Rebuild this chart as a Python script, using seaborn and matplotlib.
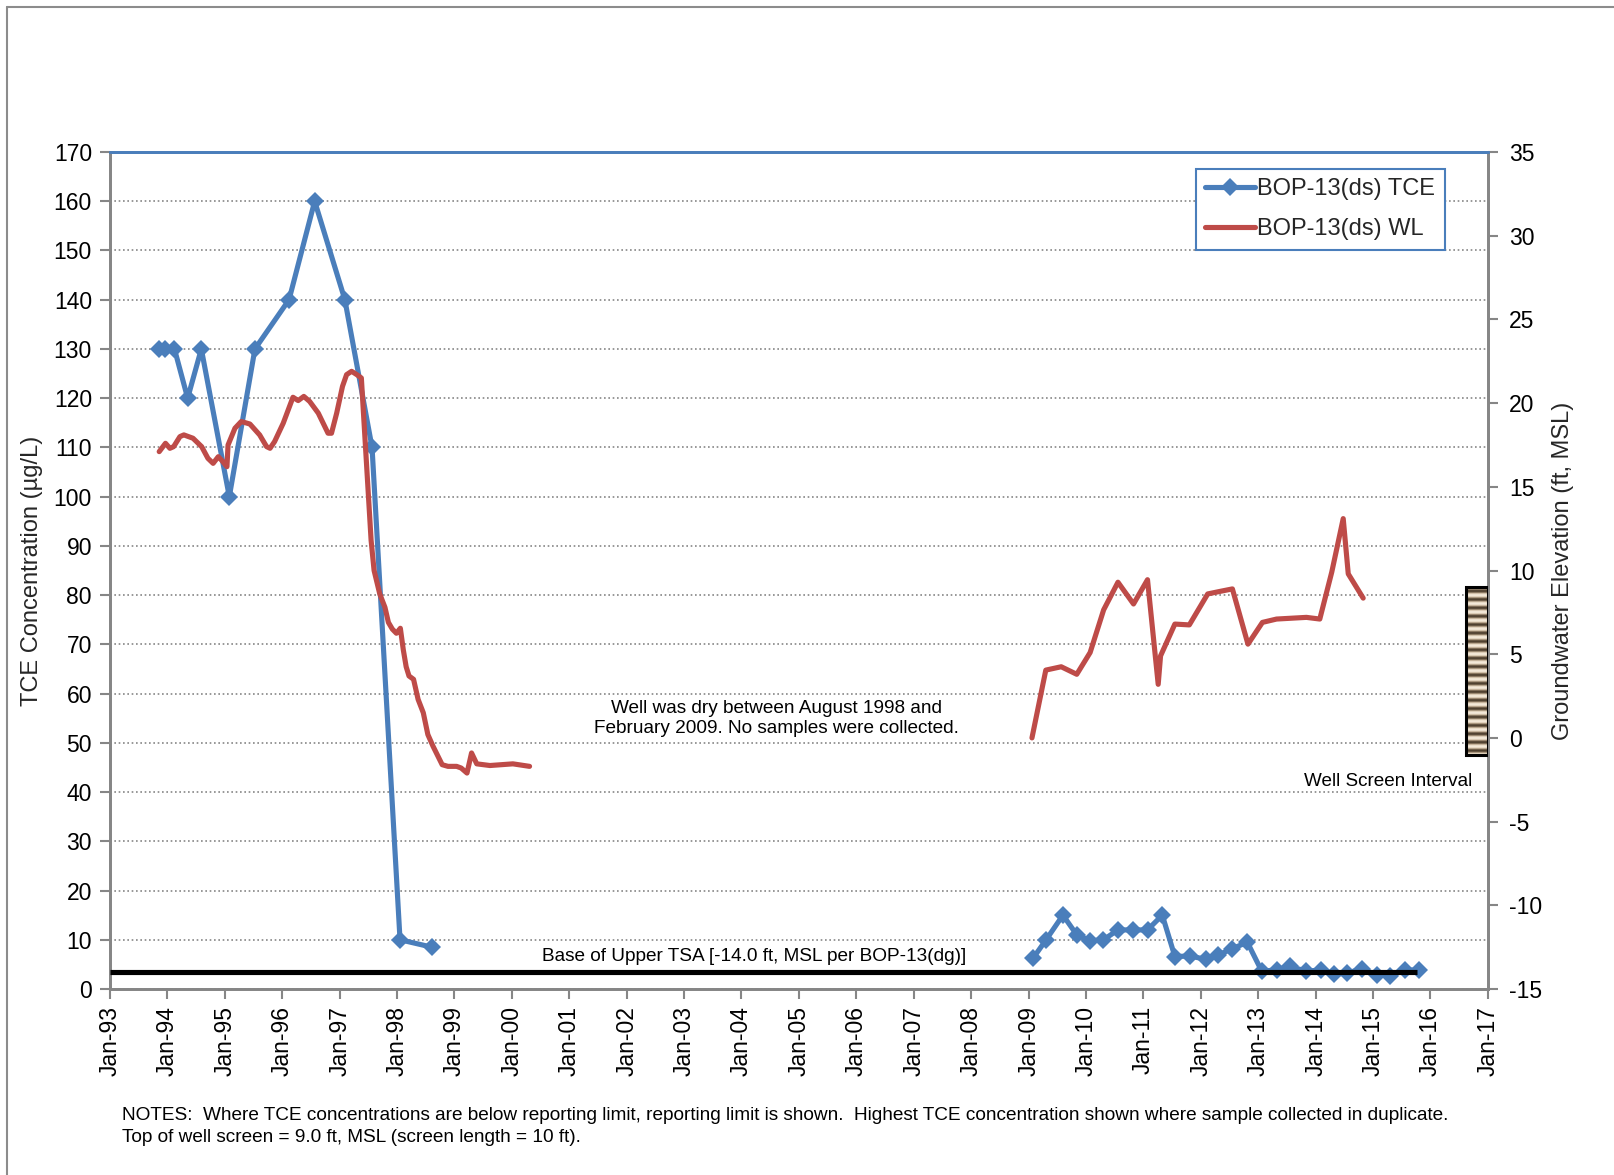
import numpy as np
import pandas as pd
import matplotlib
matplotlib.use("Agg")
import matplotlib.pyplot as plt
import matplotlib.dates as mdates
from matplotlib.colors import LinearSegmentedColormap
from matplotlib.lines import Line2D
from matplotlib.patches import Rectangle
import seaborn as sns

# ---------------- data ----------------
# TCE concentration (ug/L), BOP-13(ds)
tce_dates_early = ["1993-11-10", "1993-12-20", "1994-02-15", "1994-05-10", "1994-08-05",
                   "1995-01-30", "1995-07-12", "1996-02-14", "1996-07-26", "1997-02-03",
                   "1997-07-26", "1998-01-20", "1998-08-10"]
tce_values_early = [130, 130, 130, 120, 130, 100, 130, 140, 160, 140, 110, 10, 8.5]

tce_dates_late = ["2009-01-30", "2009-04-22", "2009-08-07", "2009-11-03", "2010-01-27",
                  "2010-04-22", "2010-07-23", "2010-10-27", "2011-01-27", "2011-05-01",
                  "2011-07-20", "2011-10-23", "2012-02-06", "2012-04-20", "2012-07-20",
                  "2012-10-23", "2013-01-23", "2013-04-27", "2013-07-20", "2013-11-03",
                  "2014-02-06", "2014-04-27", "2014-07-17", "2014-10-20", "2015-01-23",
                  "2015-04-20", "2015-07-26", "2015-10-23"]
tce_values_late = [6.3, 10, 15, 11, 9.8, 10, 12, 12, 12, 15,
                   6.6, 6.7, 6.0, 6.9, 8.2, 9.5, 3.6, 3.9, 4.6, 3.6,
                   3.9, 3.0, 3.2, 4.1, 2.9, 2.7, 3.9, 3.8]

# Groundwater elevation (ft, MSL), BOP-13(ds)
wl_dates_early = ["1993-11-10", "1993-12-20", "1994-01-17", "1994-02-10", "1994-03-22",
                  "1994-04-16", "1994-06-13", "1994-08-07", "1994-09-16", "1994-10-19",
                  "1994-11-21", "1994-12-20", "1995-01-15", "1995-01-22", "1995-03-07",
                  "1995-04-16", "1995-06-10", "1995-08-11", "1995-09-24", "1995-10-16",
                  "1995-11-14", "1996-01-08", "1996-03-10", "1996-04-12", "1996-05-18",
                  "1996-06-24", "1996-08-18", "1996-10-19", "1996-11-10", "1996-12-13",
                  "1997-01-19", "1997-02-14", "1997-03-18", "1997-04-20", "1997-05-19",
                  "1997-07-20", "1997-08-08", "1997-09-13", "1997-10-16", "1997-11-07",
                  "1997-12-02", "1997-12-28", "1998-01-22", "1998-02-10", "1998-02-28",
                  "1998-03-18", "1998-04-16", "1998-05-15", "1998-06-17", "1998-07-16",
                  "1998-08-18", "1998-10-15", "1998-11-21", "1999-01-15", "1999-02-13",
                  "1999-03-22", "1999-04-20", "1999-05-23", "1999-08-15", "2000-01-08",
                  "2000-04-23"]
wl_values_early = [17.1, 17.6, 17.3, 17.4, 18.0,
                   18.1, 17.9, 17.4, 16.7, 16.4,
                   16.8, 16.5, 16.2, 17.5, 18.5,
                   18.9, 18.75, 18.1, 17.4, 17.3,
                   17.7, 18.8, 20.35, 20.15, 20.4,
                   20.1, 19.4, 18.2, 18.2, 19.4,
                   21.0, 21.7, 21.9, 21.7, 21.5,
                   11.8, 10.0, 8.6, 7.8, 6.9,
                   6.5, 6.25, 6.55, 5.25, 4.25,
                   3.7, 3.5, 2.3, 1.5, 0.2,
                   -0.5, -1.6, -1.7, -1.7, -1.8,
                   -2.1, -0.9, -1.55, -1.65, -1.55,
                   -1.7]

wl_dates_late = ["2009-01-22", "2009-04-20", "2009-07-27", "2009-11-03", "2010-01-27",
                 "2010-04-23", "2010-07-23", "2010-10-30", "2011-01-27", "2011-04-05",
                 "2011-04-20", "2011-07-20", "2011-10-20", "2012-02-14", "2012-05-01",
                 "2012-07-20", "2012-10-27", "2013-01-27", "2013-04-27", "2013-11-03",
                 "2014-01-27", "2014-04-13", "2014-06-25", "2014-07-27", "2014-10-30"]
wl_values_late = [0.0, 4.05, 4.25, 3.8, 5.1,
                  7.65, 9.3, 8.0, 9.45, 3.2,
                  4.9, 6.8, 6.75, 8.6, 8.75,
                  8.9, 5.6, 6.9, 7.1, 7.2,
                  7.1, 9.9, 13.1, 9.8, 8.35]

# Base of Upper TSA and well screen (ft, MSL)
tsa_base_elev = -14.0
tsa_line_dates = ["1993-01-01", "2015-10-05"]
screen_top = 9.0
screen_length = 10.0
screen_dates = ["2016-08-15", "2017-01-01"]

tce_label = "BOP-13(ds) TCE"
wl_label = "BOP-13(ds) WL"

# ---------------- tables ----------------
tce_df = pd.DataFrame({
    "date": pd.to_datetime(tce_dates_early + tce_dates_late),
    "tce": tce_values_early + tce_values_late,
    "segment": [0] * len(tce_dates_early) + [1] * len(tce_dates_late),
})
wl_df = pd.DataFrame({
    "date": pd.to_datetime(wl_dates_early + wl_dates_late),
    "wl": wl_values_early + wl_values_late,
    "segment": [0] * len(wl_dates_early) + [1] * len(wl_dates_late),
})

# ---------------- style ----------------
sns.set_theme(style="white")
plt.rcParams["font.family"] = ["Liberation Sans", "DejaVu Sans"]
plt.rcParams["axes.unicode_minus"] = False

blue = "#4A7EBB"
red = "#BE4B48"
axis_gray = "#868686"

W, H = 1614, 1175
fig = plt.figure(figsize=(W / 100, H / 100), dpi=100)
fig.patch.set_facecolor("white")

ax = fig.add_axes([110 / W, 1 - 989 / H, (1488 - 110) / W, (989 - 152) / H])
ax2 = ax.twinx()

# TCE on the left axis
sns.lineplot(data=tce_df, x="date", y="tce", units="segment", estimator=None,
             ax=ax, color=blue, linewidth=3.7, marker="D", markersize=9,
             markeredgecolor=blue, markeredgewidth=0, legend=False, zorder=3)

# Water level on the right axis
sns.lineplot(data=wl_df, x="date", y="wl", units="segment", estimator=None,
             ax=ax2, color=red, linewidth=3.7, legend=False, zorder=3)

# base of Upper TSA
ax2.plot(pd.to_datetime(tsa_line_dates), [tsa_base_elev, tsa_base_elev],
         color="black", linewidth=3.7, solid_capstyle="butt", zorder=4)

# well screen interval symbol
stripe_cmap = LinearSegmentedColormap.from_list(
    "screen", ["#4a3c2b", "#96826a", "#dccbb2", "#f6ecdc"])
rows = np.arange(400)
texture = (0.5 + 0.5 * np.cos(2 * np.pi * rows / 20.0)).reshape(-1, 1)
sx0, sx1 = mdates.date2num(pd.to_datetime(screen_dates))
sy0, sy1 = screen_top - screen_length, screen_top
ax2.imshow(texture, cmap=stripe_cmap, extent=[sx0, sx1, sy0, sy1],
           aspect="auto", origin="lower", zorder=5, interpolation="bilinear")
ax2.add_patch(Rectangle((sx0, sy0), sx1 - sx0, sy1 - sy0, fill=False,
                        edgecolor="black", linewidth=2.2, zorder=6))

# axes limits & ticks
ax.set_xlim(pd.Timestamp("1993-01-01"), pd.Timestamp("2017-01-01"))
ax.set_ylim(0, 170)
ax2.set_ylim(-15, 35)
ax.set_yticks(np.arange(0, 171, 10))
ax2.set_yticks(np.arange(-15, 36, 5))
ax.xaxis.set_major_locator(mdates.YearLocator())
ax.xaxis.set_major_formatter(mdates.DateFormatter("%b-%y"))
for lbl in ax.get_xticklabels():
    lbl.set_rotation(90)

tick_fs = 16.5
ax.tick_params(axis="x", which="major", direction="out", length=7, width=1.5,
               color=axis_gray, labelsize=tick_fs, labelcolor="black", pad=5,
               bottom=True)
ax.tick_params(axis="y", which="major", direction="out", length=7, width=1.5,
               color=axis_gray, labelsize=tick_fs, labelcolor="black", pad=6,
               left=True)
ax2.tick_params(axis="y", which="major", direction="out", length=7, width=1.5,
                color=axis_gray, labelsize=tick_fs, labelcolor="black", pad=8,
                right=True)

ax.set_xlabel("")
ax.set_ylabel("TCE Concentration (µg/L)", fontsize=17, labelpad=8)
ax2.set_ylabel("Groundwater Elevation (ft, MSL)", fontsize=17, labelpad=7)

# gridlines
ax.yaxis.grid(True, color=axis_gray, linestyle=(0, (1, 1.6)), linewidth=1.2)
ax.xaxis.grid(False)
ax.set_axisbelow(True)

for a in (ax, ax2):
    for side in ("left", "right", "bottom"):
        a.spines[side].set_color(axis_gray)
        a.spines[side].set_linewidth(2)
    a.spines["top"].set_color(blue)
    a.spines["top"].set_linewidth(2)
ax.patch.set_visible(False)

# annotations
ax.text(pd.Timestamp("2004-08-10"), 55,
        "Well was dry between August 1998 and\nFebruary 2009. No samples were collected.",
        ha="center", va="center", fontsize=13.65, linespacing=1.25, color="black")
ax.text(pd.Timestamp("2004-03-20"), 6.6,
        "Base of Upper TSA [-14.0 ft, MSL per BOP-13(dg)]",
        ha="center", va="center", fontsize=13.7, color="black")
ax2.text(pd.Timestamp("2016-09-25"), -2.6, "Well Screen Interval",
         ha="right", va="center", fontsize=13.6, color="black")

# legend
handles = [Line2D([], [], color=blue, linewidth=3.7, marker="D", markersize=9,
                  markeredgewidth=0, label=tce_label),
           Line2D([], [], color=red, linewidth=3.7, label=wl_label)]
leg = ax2.legend(handles=handles, loc="upper left", bbox_to_anchor=(0.788, 0.980),
                 borderaxespad=0, fontsize=17, frameon=True, fancybox=False,
                 handlelength=2.1, handletextpad=0.1, borderpad=0.4,
                 labelspacing=0.76, markerscale=1.0)
leg.get_frame().set_edgecolor(blue)
leg.get_frame().set_linewidth(1.5)
leg.get_frame().set_alpha(1)

# notes
fig.text(122 / W, 1 - 1115 / H,
         "NOTES:  Where TCE concentrations are below reporting limit, reporting limit is shown.  "
         "Highest TCE concentration shown where sample collected in duplicate.",
         ha="left", va="center", fontsize=13.7, color="black")
fig.text(122 / W, 1 - 1138 / H,
         "Top of well screen = 9.0 ft, MSL (screen length = 10 ft).",
         ha="left", va="center", fontsize=13.7, color="black")

# outer chart frame
fig.add_artist(Line2D([7 / W, 7 / W], [0, 1 - 7 / H], transform=fig.transFigure,
                      color="#8c8c8c", linewidth=1.5))
fig.add_artist(Line2D([7 / W, 1], [1 - 7 / H, 1 - 7 / H], transform=fig.transFigure,
                      color="#8c8c8c", linewidth=1.5))

fig.savefig("out.png", dpi=100, facecolor="white")
